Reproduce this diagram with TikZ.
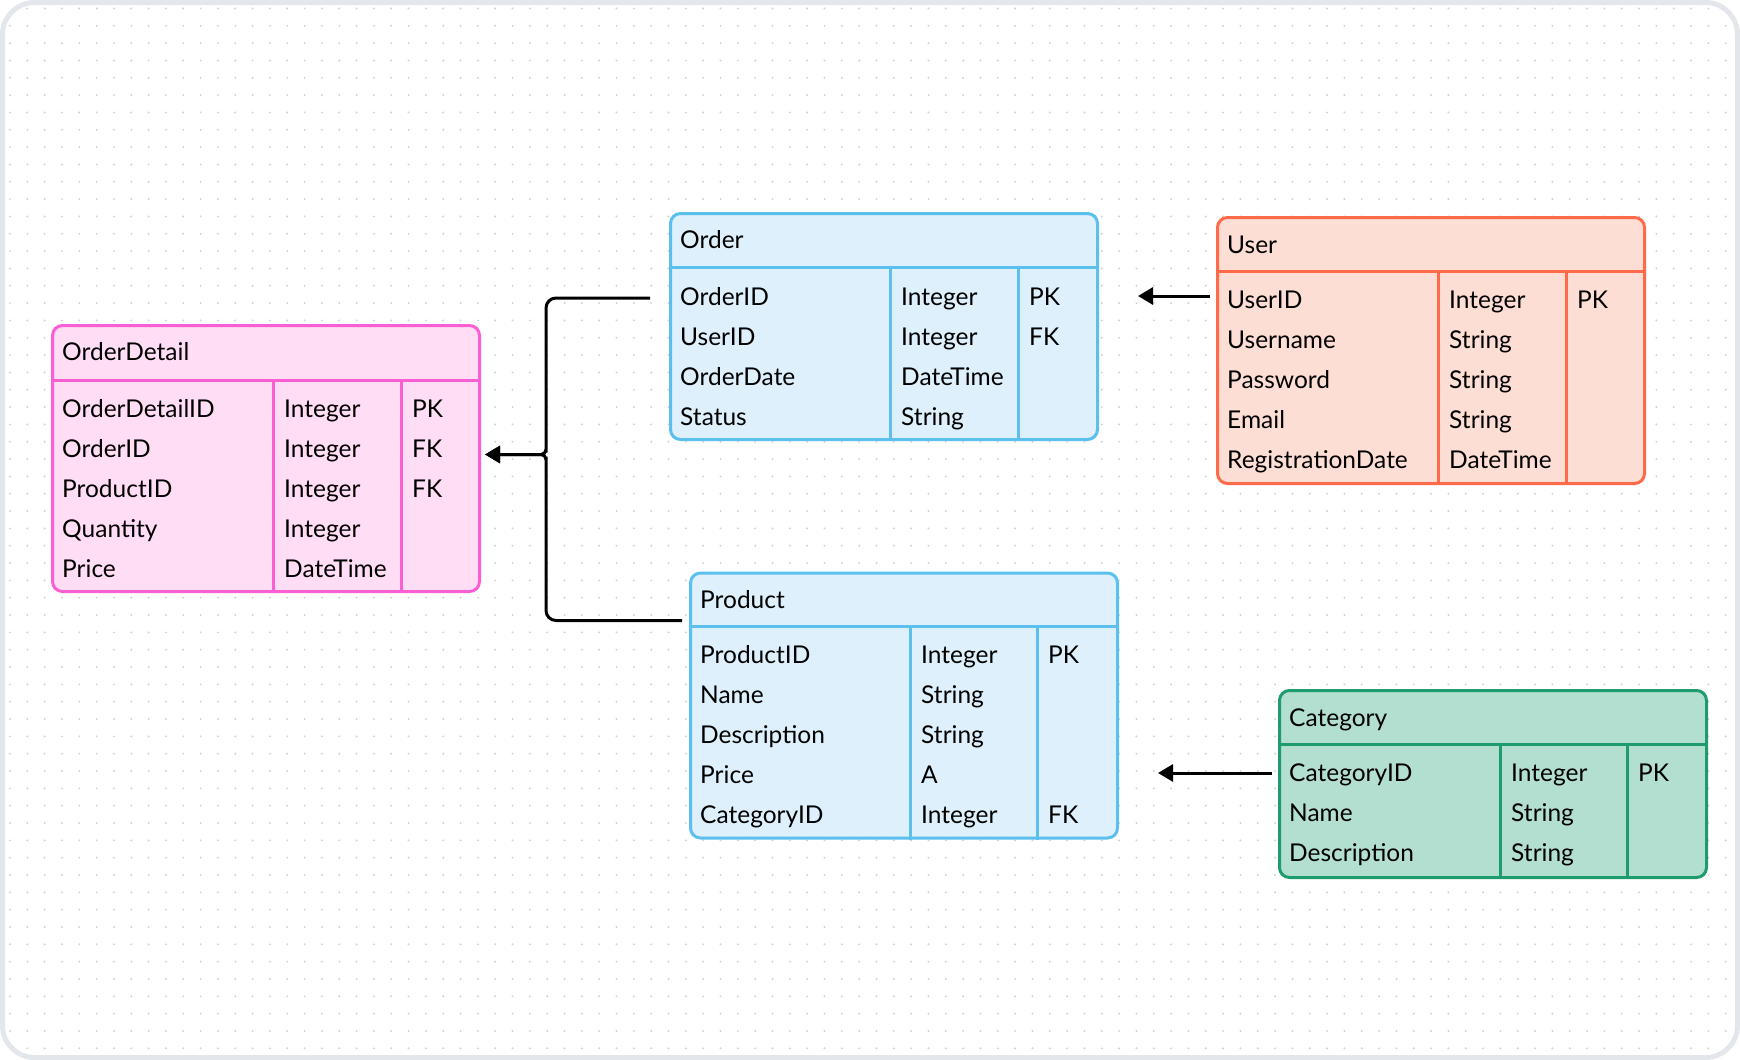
\documentclass[tikz,border=0pt]{standalone}
\usepackage{fontspec}
\setmainfont{Lato}
\usepackage{tikz}
\usetikzlibrary{arrows.meta, positioning, calc}
\definecolor{pinkFill}{HTML}{FFDDF4}
\definecolor{pinkLine}{HTML}{FB5FD3}
\definecolor{blueFill}{HTML}{DDF0FB}
\definecolor{blueLine}{HTML}{5BC0EE}
\definecolor{salmonFill}{HTML}{FDDED5}
\definecolor{salmonLine}{HTML}{FF6A4A}
\definecolor{greenFill}{HTML}{B2DFCF}
\definecolor{greenLine}{HTML}{1F9C6E}
\definecolor{frameGrey}{HTML}{E3E7EC}
\colorlet{dotGrey}{gray!35}

\begin{document}
\begin{tikzpicture}[x=1pt, y=1pt,
  tbl/.style={draw, line width=3pt, rounded corners=10pt, minimum width=427pt,
    inner sep=0pt, anchor=north west},
  rule/.style={line width=3pt},
  txt/.style={anchor=west, inner sep=0pt, text height=17pt, text depth=0pt,
    font=\fontsize{24.5}{29}\selectfont},
  link/.style={line width=3pt, -{Triangle[length=15pt, width=17pt]}}]
  \useasboundingbox (0,0) rectangle (1740,-1060);

  % Dotted canvas
  \begin{scope}
    \clip[rounded corners=32pt] (2.5,-2.5) rectangle (1737.5,-1057.5);
    \foreach \i in {0,...,99}
      \foreach \j in {0,...,60}
        \fill[dotGrey] ({10+17.33*\i},{-8.5-17.33*\j}) circle (1.1pt);
  \end{scope}
  \draw[frameGrey, line width=5pt, rounded corners=32pt] (2.5,-2.5) rectangle (1737.5,-1057.5);

  % OrderDetail table
  \node[tbl, pinkLine, fill=pinkFill, minimum height=266pt] (odetail) at (51,-324) {};
  \draw[rule, pinkLine] ([yshift=-56pt]odetail.north west) -- ([yshift=-56pt]odetail.north east);
  \draw[rule, pinkLine] ([xshift=222pt, yshift=-56pt]odetail.north west) -- ([xshift=222pt]odetail.south west);
  \draw[rule, pinkLine] ([xshift=350pt, yshift=-56pt]odetail.north west) -- ([xshift=350pt]odetail.south west);
  \node[txt] (odetail-h) at ([xshift=11pt, yshift=-28pt]odetail.north west) {OrderDetail};
  \foreach \fname/\ftype/\fkey [count=\i] in {OrderDetailID/Integer/PK, OrderID/Integer/FK,
      ProductID/Integer/FK, Quantity/Integer/, Price/DateTime/} {
    \node[txt] (odetail-f\i) at ([xshift=11pt, yshift={-45pt-40pt*\i}]odetail.north west) {\fname};
    \node[txt] (odetail-t\i) at ([xshift=233pt, yshift={-45pt-40pt*\i}]odetail.north west) {\ftype};
    \node[txt] (odetail-k\i) at ([xshift=361pt, yshift={-45pt-40pt*\i}]odetail.north west) {\fkey};
  }

  % Order table
  \node[tbl, blueLine, fill=blueFill, minimum height=226pt] (order) at (669,-212) {};
  \draw[rule, blueLine] ([yshift=-55pt]order.north west) -- ([yshift=-55pt]order.north east);
  \draw[rule, blueLine] ([xshift=221pt, yshift=-55pt]order.north west) -- ([xshift=221pt]order.south west);
  \draw[rule, blueLine] ([xshift=349pt, yshift=-55pt]order.north west) -- ([xshift=349pt]order.south west);
  \node[txt] (order-h) at ([xshift=11pt, yshift=-28pt]order.north west) {Order};
  \foreach \fname/\ftype/\fkey [count=\i] in {OrderID/Integer/PK, UserID/Integer/FK,
      OrderDate/DateTime/, Status/String/} {
    \node[txt] (order-f\i) at ([xshift=11pt, yshift={-45pt-40pt*\i}]order.north west) {\fname};
    \node[txt] (order-t\i) at ([xshift=232pt, yshift={-45pt-40pt*\i}]order.north west) {\ftype};
    \node[txt] (order-k\i) at ([xshift=360pt, yshift={-45pt-40pt*\i}]order.north west) {\fkey};
  }

  % User table
  \node[tbl, salmonLine, fill=salmonFill, minimum height=266pt] (user) at (1216,-216) {};
  \draw[rule, salmonLine] ([yshift=-55pt]user.north west) -- ([yshift=-55pt]user.north east);
  \draw[rule, salmonLine] ([xshift=222pt, yshift=-55pt]user.north west) -- ([xshift=222pt]user.south west);
  \draw[rule, salmonLine] ([xshift=350pt, yshift=-55pt]user.north west) -- ([xshift=350pt]user.south west);
  \node[txt] (user-h) at ([xshift=11pt, yshift=-29pt]user.north west) {User};
  \foreach \fname/\ftype/\fkey [count=\i] in {UserID/Integer/PK, Username/String/,
      Password/String/, Email/String/, RegistrationDate/DateTime/} {
    \node[txt] (user-f\i) at ([xshift=11pt, yshift={-44pt-40pt*\i}]user.north west) {\fname};
    \node[txt] (user-t\i) at ([xshift=233pt, yshift={-44pt-40pt*\i}]user.north west) {\ftype};
    \node[txt] (user-k\i) at ([xshift=361pt, yshift={-44pt-40pt*\i}]user.north west) {\fkey};
  }

  % Product table
  \node[tbl, blueLine, fill=blueFill, minimum height=265pt] (product) at (689,-571.5) {};
  \draw[rule, blueLine] ([yshift=-55pt]product.north west) -- ([yshift=-55pt]product.north east);
  \draw[rule, blueLine] ([xshift=221pt, yshift=-55pt]product.north west) -- ([xshift=221pt]product.south west);
  \draw[rule, blueLine] ([xshift=348pt, yshift=-55pt]product.north west) -- ([xshift=348pt]product.south west);
  \node[txt] (product-h) at ([xshift=11pt, yshift=-28pt]product.north west) {Product};
  \foreach \fname/\ftype/\fkey [count=\i] in {ProductID/Integer/PK, Name/String/,
      Description/String/, Price/A/, CategoryID/Integer/FK} {
    \node[txt] (product-f\i) at ([xshift=11pt, yshift={-43pt-40pt*\i}]product.north west) {\fname};
    \node[txt] (product-t\i) at ([xshift=232pt, yshift={-43pt-40pt*\i}]product.north west) {\ftype};
    \node[txt] (product-k\i) at ([xshift=359pt, yshift={-43pt-40pt*\i}]product.north west) {\fkey};
  }

  % Category table
  \node[tbl, greenLine, fill=greenFill, minimum height=187pt] (category) at (1278,-689) {};
  \draw[rule, greenLine] ([yshift=-55pt]category.north west) -- ([yshift=-55pt]category.north east);
  \draw[rule, greenLine] ([xshift=222pt, yshift=-55pt]category.north west) -- ([xshift=222pt]category.south west);
  \draw[rule, greenLine] ([xshift=349pt, yshift=-55pt]category.north west) -- ([xshift=349pt]category.south west);
  \node[txt] (category-h) at ([xshift=11pt, yshift=-29pt]category.north west) {Category};
  \foreach \fname/\ftype/\fkey [count=\i] in {CategoryID/Integer/PK, Name/String/,
      Description/String/} {
    \node[txt] (category-f\i) at ([xshift=11pt, yshift={-44pt-40pt*\i}]category.north west) {\fname};
    \node[txt] (category-t\i) at ([xshift=233pt, yshift={-44pt-40pt*\i}]category.north west) {\ftype};
    \node[txt] (category-k\i) at ([xshift=360pt, yshift={-44pt-40pt*\i}]category.north west) {\fkey};
  }

  % Links
  \coordinate (ordout) at ($(order.west |- order-f1)+(-19,-1)$);
  \coordinate (prodout) at ($(product.north west)+(-7,-49)$);
  \coordinate (odin) at ($(odetail.east)+(4,4)$);
  \coordinate (jn) at ($(odetail.east)+(65,4)$);
  \draw[link, rounded corners=10pt] (ordout) -| ([yshift=12pt]jn) [rounded corners=5pt] -- (jn) -- (odin);
  \draw[link, rounded corners=10pt] (prodout) -| ([yshift=-12pt]jn) [rounded corners=5pt] -- (jn) -- (odin);

  \coordinate (userout) at ($(user.west |- user-f1)+(-6,4)$);
  \coordinate (ordin) at ($(order.east |- userout)+(39,0)$);
  \draw[link] (userout) -- (ordin);

  \coordinate (catout) at ($(category.west |- category-f1)+(-6,0)$);
  \coordinate (prodin) at ($(product.east |- catout)+(39,0)$);
  \draw[link] (catout) -- (prodin);
\end{tikzpicture}
\end{document}
